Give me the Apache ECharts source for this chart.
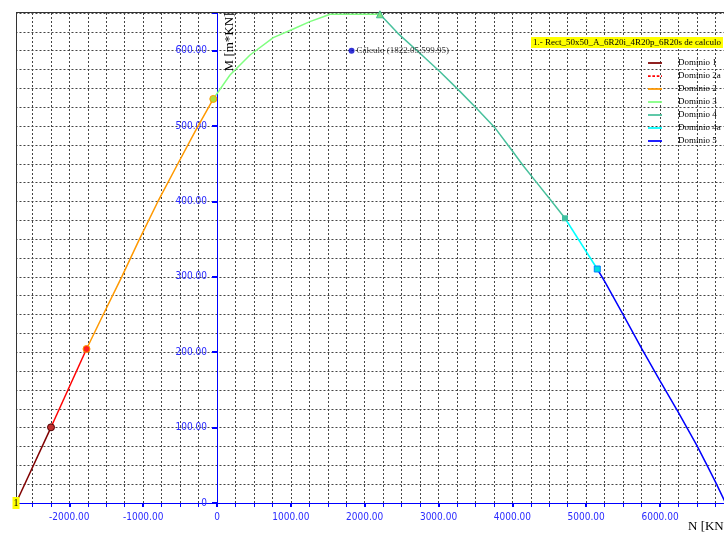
<!DOCTYPE html>
<html><head><meta charset="utf-8">
<script src="https://cdn.jsdelivr.net/npm/echarts@6/dist/echarts.min.js"></script>
<style>html,body{margin:0;padding:0;background:#fff}#c{width:724px;height:535px}</style>
</head><body><div id="c"></div>
<script>
// ---- data (N [KN], M [m*KN]) ----
const seriesNames = ['Dominio 1','Dominio 2a','Dominio 2','Dominio 3','Dominio 4','Dominio 4a','Dominio 5'];
const dominio1  = [[-2722,0],[-2248,100.4]];
const dominio2a = [[-2248,100.4],[-1767,204.3]];
const dominio2  = [[-1767,204.3],[-1540,250],[-1290,300],[-1050,350],[-800,400],[-530,450],[-285,495],[-50,536]];
const dominio3  = [[-50,536],[176,567.8],[447,594.3],[762,617.3],[1033,628.8],[1257,638.5],[1440,645.1],[1530,648.3],[2207,648.3]];
const dominio4  = [[2207,648.3],[2450,623],[2800,592],[3020,572],[3270,548],[3520,523],[3770,497],[3970,471],[4150,447],[4330,425],[4510,403],[4713,377.7]];
const dominio4a = [[4713,377.7],[5150,310.4]];
const dominio5  = [[5150,310.4],[5250,294],[5500,250],[5750,205],[6000,162],[6250,120],[6500,76],[6632,51],[6750,28],[6888,0]];
const calculo = [1822.05, 599.95];
const titleText = '1.- Rect_50x50_A_6R20i_4R20p_6R20s de calculo';
const startLabel = '1';
const xName = 'N [KN]';
const yName = 'M [m*KN]';

// ---- styles ----
const colors = ['#800000','#ff0000','#ff9900','#80ff80','#48c09c','#00ffff','#0000ff'];
const markers = [
  {symbol:'circle', symbolSize:7, itemStyle:{color:'#c03030', borderColor:'#500000', borderWidth:1}},
  {symbol:'circle', symbolSize:7, itemStyle:{color:'#ff2020', borderColor:'#ff9900', borderWidth:1}},
  {symbol:'circle', symbolSize:7, itemStyle:{color:'#b0e040', borderColor:'#ff9900', borderWidth:1}},
  {symbol:'triangle', symbolSize:7, itemStyle:{color:'#80e080', borderColor:'#40c090', borderWidth:1}},
  {symbol:'rect', symbolSize:6, itemStyle:{color:'#40c0a0'}},
  {symbol:'rect', symbolSize:6, itemStyle:{color:'#00e0e0', borderColor:'#0080ff', borderWidth:1}},
  null
];
const allData = [dominio1, dominio2a, dominio2, dominio3, dominio4, dominio4a, dominio5];
const serif = "'Liberation Serif','Times New Roman',serif";
const narrow = "'Liberation Sans Narrow','DejaVu Sans Condensed','Arial Narrow',sans-serif";
const axisBlue = '#0000ff';
const labelBlue = '#2a2aff';
const gridStyle = {color:'#444', type:[2,2], width:1};
const GRID_LEFT = 217 - 3000*0.07384;

const series = allData.map((d, si) => {
  const pts = d.map((p, i) => {
    const item = {value: p};
    if (i === d.length - 1 && markers[si]) Object.assign(item, markers[si]);
    if (si === 0 && i === 0) {
      Object.assign(item, {symbol:'rect', symbolSize:[7,12], itemStyle:{color:'#ffff00'},
        label:{show:true, position:'inside', formatter:startLabel, color:'#000', fontFamily:serif, fontSize:10}});
    }
    return item;
  });
  return {type:'line', name:seriesNames[si], data:pts, symbol:'none', showSymbol:true,
    xAxisIndex:0, yAxisIndex:1, z:3,
    lineStyle:{color:colors[si], width:1.5}, itemStyle:{color:colors[si]}};
});
series.push({type:'scatter', name:'Cálculo', data:[calculo], symbol:'circle', symbolSize:6,
  xAxisIndex:0, yAxisIndex:1, z:4, itemStyle:{color:'#0000cc'},
  label:{show:true, position:'right', distance:2, color:'#000', fontFamily:serif, fontSize:9,
    formatter: () => 'Cálculo (' + calculo[0].toFixed(2) + ',' + calculo[1].toFixed(2) + ')'}});

const solidIcon = 'path://M0,0h16v2h-16z';
const dashIcon = 'path://M0,0h3v2h-3z M5,0h3v2h-3z M10,0h3v2h-3z M15,0h1v2h-1z';
const legendData = seriesNames.map(n => ({name:n, icon: n === 'Dominio 2a' ? dashIcon : solidIcon}));

const chart = echarts.init(document.getElementById('c'), null, {renderer:'canvas'});
chart.setOption({
  animation:false,
  backgroundColor:'#fff',
  title:{text:titleText, left:531, top:37, padding:[1,2], backgroundColor:'#ffff00',
    textStyle:{fontFamily:serif, fontSize:9, fontWeight:'normal', color:'#000', lineHeight:9}},
  legend:{orient:'vertical', left:643, top:53, itemWidth:14, itemHeight:2, itemGap:3,
    data:legendData, selectedMode:false,
    textStyle:{fontFamily:serif, fontSize:9, color:'#000', lineHeight:10, padding:[0,0,0,11]}},
  grid:{left:GRID_LEFT, top:13, width:10000*0.07384, height:490, containLabel:false, outerBoundsMode:'none'},
  xAxis:[
    {type:'value', min:-3000, max:7000, interval:1000,
     axisLine:{onZero:false, lineStyle:{color:axisBlue, width:1}},
     axisTick:{show:true, length:4, lineStyle:{color:axisBlue, width:2}},
     minorTick:{show:true, splitNumber:4, length:4, lineStyle:{color:axisBlue, width:1}},
     splitLine:{show:false},
     axisLabel:{margin:9, color:labelBlue, fontFamily:narrow, fontSize:10,
       formatter: v => (v <= -3000 || v >= 7000) ? '' : (v === 0 ? '0' : v.toFixed(2))}},
    {type:'value', min:-3000, max:7000, interval:250, position:'bottom',
     axisLine:{show:false}, axisTick:{show:false}, axisLabel:{show:false},
     splitLine:{show:true, lineStyle:gridStyle}}
  ],
  yAxis:[
    {type:'value', min:0, max:650, interval:25, position:'right',
     axisLine:{show:false}, axisTick:{show:false}, axisLabel:{show:false},
     splitLine:{show:true, lineStyle:gridStyle}},
    {type:'value', min:0, max:650, interval:100, position:'left', offset:-(217 - GRID_LEFT),
     axisLine:{show:true, onZero:false, lineStyle:{color:axisBlue, width:1}},
     axisTick:{show:true, length:5, lineStyle:{color:axisBlue, width:2}},
     splitLine:{show:false},
     axisLabel:{show:true, margin:10, color:labelBlue, fontFamily:narrow, fontSize:10,
       formatter: v => (v % 100 !== 0) ? '' : (v === 0 ? '0' : v.toFixed(2))}}
  ],
  graphic:[
    {type:'rect', z:1, shape:{x:0, y:0, width:16, height:535}, style:{fill:'#fff'}},
    {type:'rect', z:1, shape:{x:210, y:0, width:12, height:12}, style:{fill:'#fff'}},
    {type:'line', z:1.5, shape:{x1:16.5, y1:12.5, x2:16.5, y2:503}, style:{stroke:'#333', lineWidth:1}},
    {type:'line', z:1.5, shape:{x1:16, y1:12.5, x2:724, y2:12.5}, style:{stroke:'#333', lineWidth:1}},
    {type:'text', z:5, x:230, y:42, rotation:Math.PI/2,
     style:{text:yName, font:'13px ' + serif, fill:'#000', align:'center', verticalAlign:'middle'}},
    {type:'text', z:5, x:688, y:527,
     style:{text:xName, font:'13px ' + serif, fill:'#000', align:'left', verticalAlign:'middle'}}
  ],
  series: series
});
</script></body></html>
